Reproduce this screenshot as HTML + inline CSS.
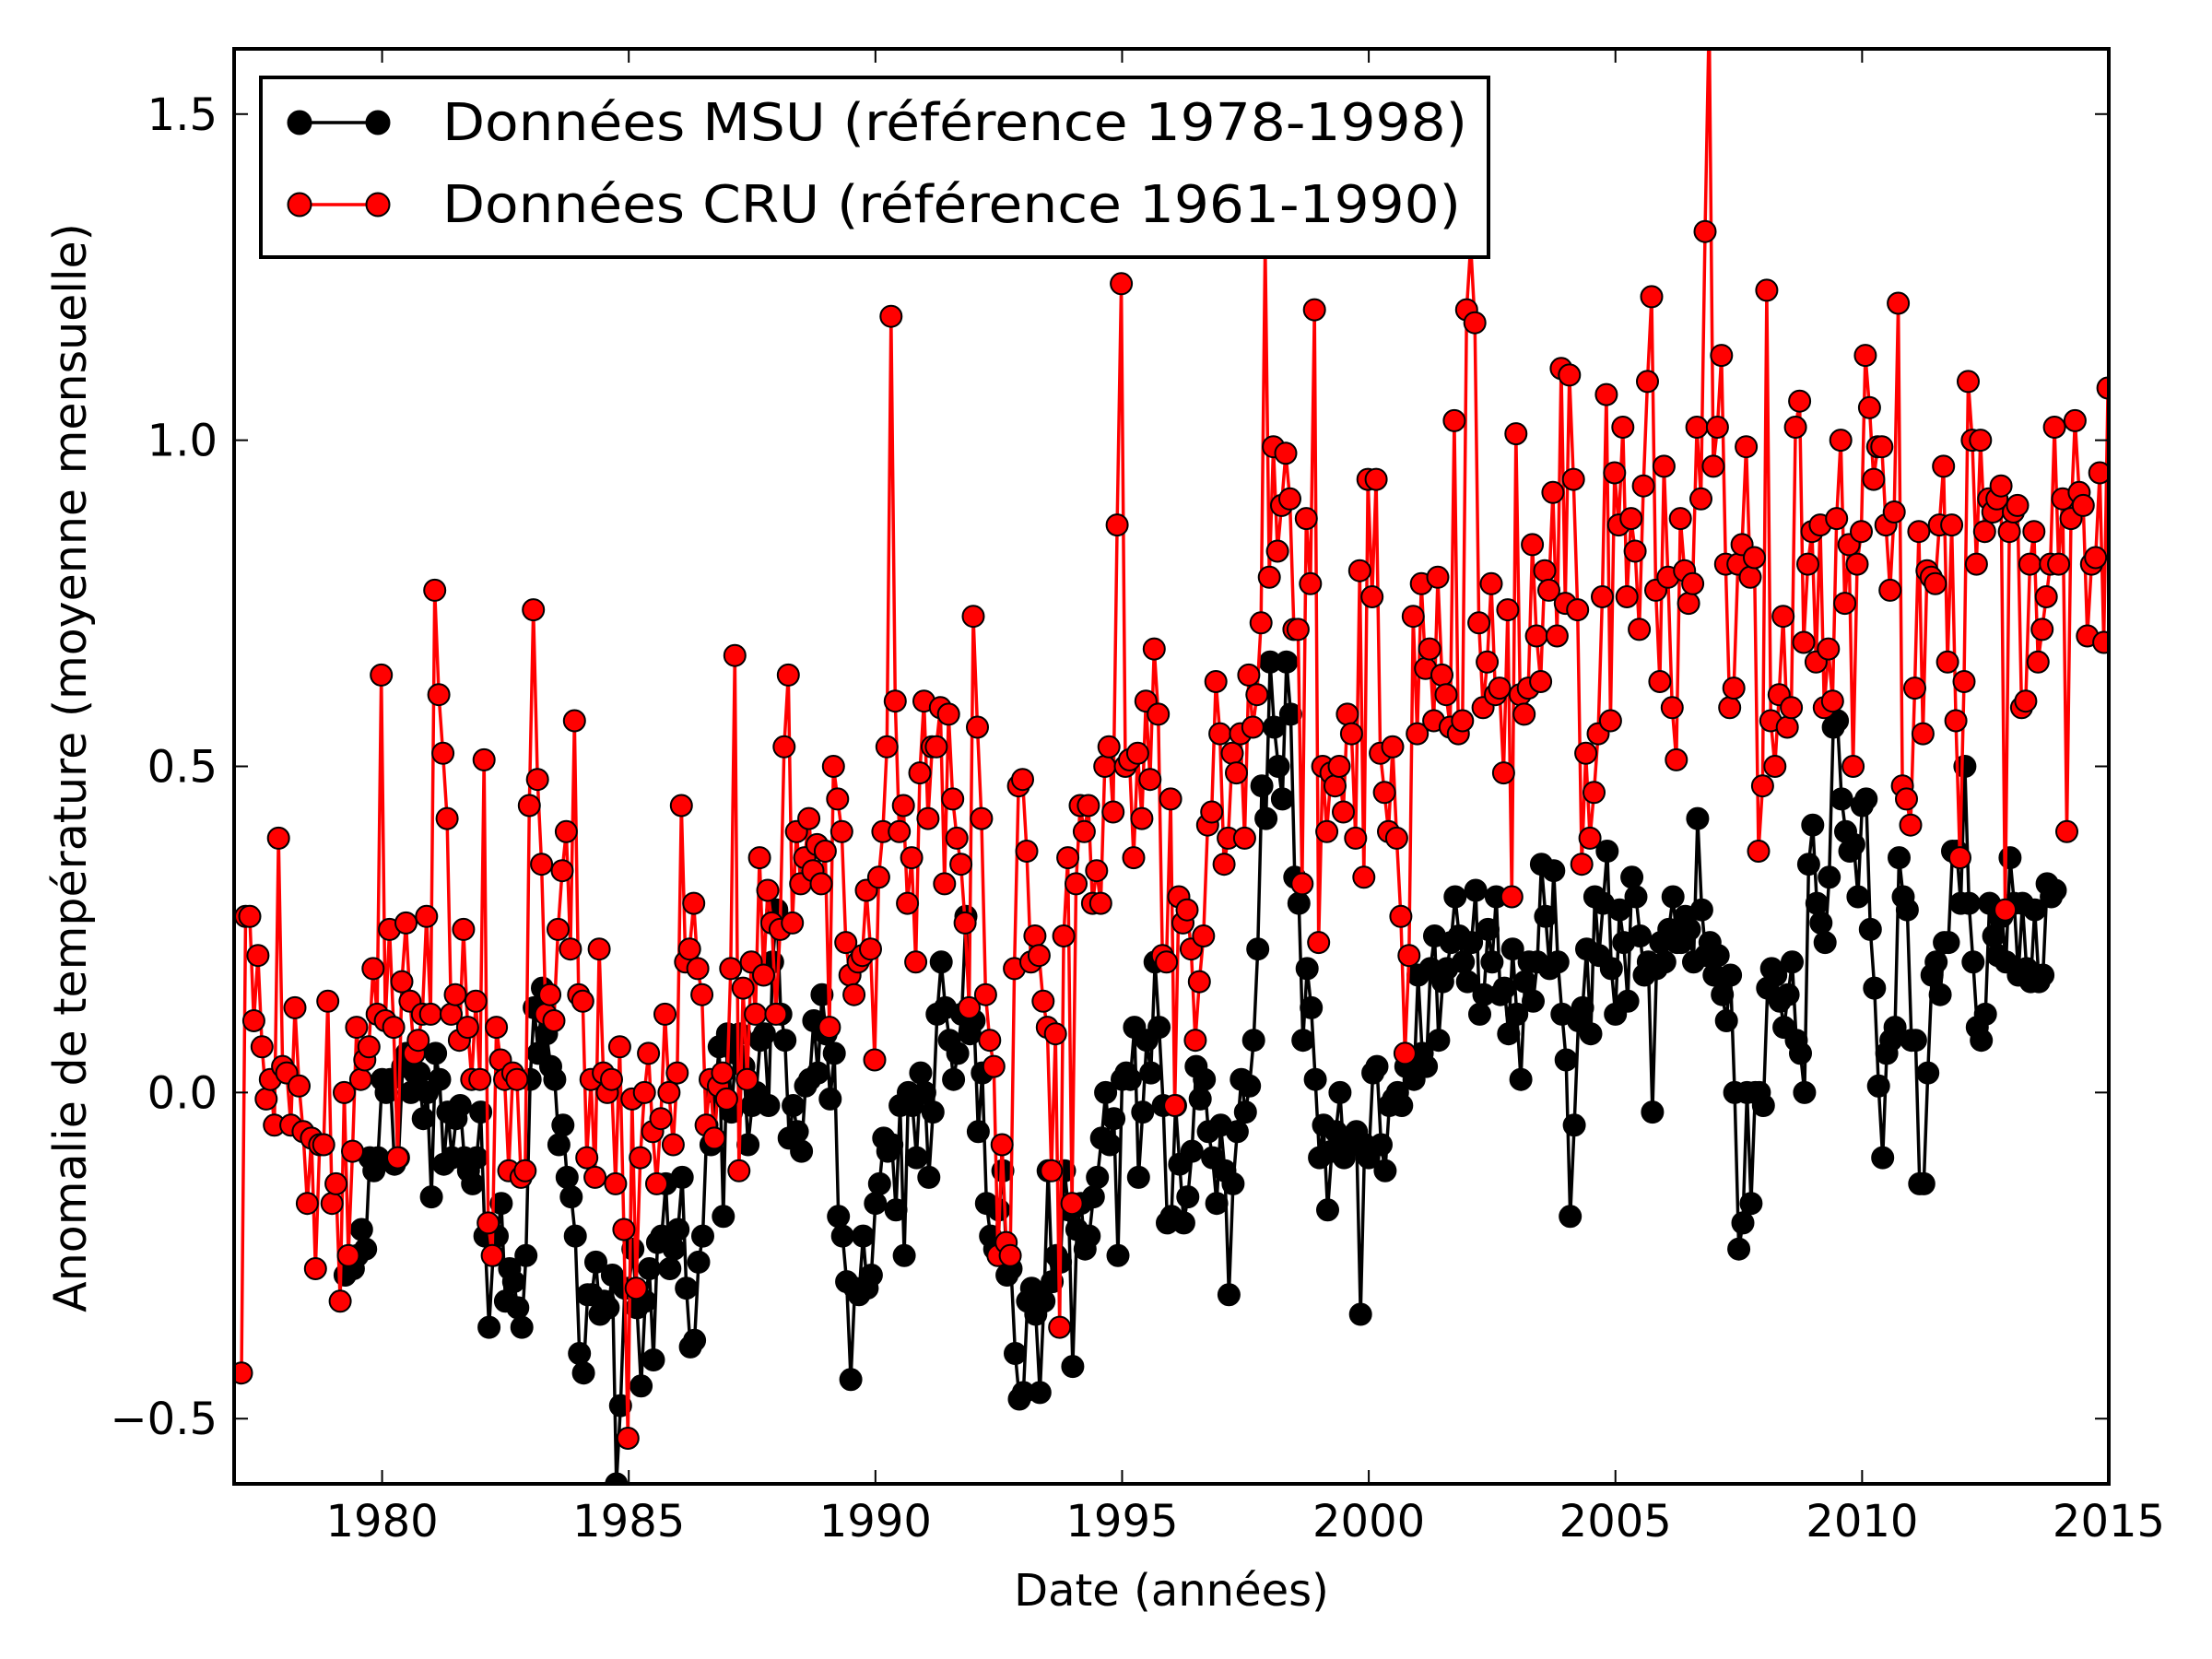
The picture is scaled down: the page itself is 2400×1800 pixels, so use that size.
<!DOCTYPE html>
<html><head><meta charset="utf-8"><style>html,body{margin:0;padding:0;background:#fff}svg{display:block}</style></head>
<body>
<svg id="chart" width="2400" height="1800" viewBox="0 0 2400 1800" xmlns="http://www.w3.org/2000/svg" font-family="DejaVu Sans, Liberation Sans, sans-serif">
<rect width="2400" height="1800" fill="#fff"/>
<defs><clipPath id="clip"><rect x="254" y="53" width="2034" height="1557"/></clipPath></defs>
<g id="series" clip-path="url(#clip)"></g>
<g id="axes"></g>
</svg>
<script>
const xTicks = [1980,1985,1990,1995,2000,2005,2010,2015];
const yTicks = [-0.5,0.0,0.5,1.0,1.5];
const yTickLabels = ["\u22120.5","0.0","0.5","1.0","1.5"];
const cruStart = 1977.15;
const msuStart = 1979.25;
const cruValues = [
-0.43,0.27,0.27,0.11,0.21,0.07,-0.01,0.02,-0.05,0.39,0.04,0.03,
-0.05,0.13,0.01,-0.06,-0.17,-0.07,-0.27,-0.08,-0.08,0.14,-0.17,-0.14,
-0.32,0.0,-0.25,-0.09,0.1,0.02,0.05,0.07,0.19,0.12,0.64,0.11,
0.25,0.1,-0.1,0.17,0.26,0.14,0.06,0.08,0.12,0.27,0.12,0.77,
0.61,0.52,0.42,0.12,0.15,0.08,0.25,0.1,0.02,0.14,0.02,0.51,
-0.2,-0.25,0.1,0.05,0.02,-0.12,0.03,0.02,-0.13,-0.12,0.44,0.74,
0.48,0.35,0.12,0.15,0.11,0.25,0.34,0.4,0.22,0.57,0.15,0.14,
-0.1,0.02,-0.13,0.22,0.03,0.0,0.02,-0.14,0.07,-0.21,-0.53,-0.01,
-0.3,-0.1,0.0,0.06,-0.06,-0.14,-0.04,0.12,0.0,-0.08,0.03,0.44,
0.2,0.22,0.29,0.19,0.15,-0.05,0.02,-0.07,0.01,0.03,-0.01,0.19,
0.67,-0.12,0.16,0.02,0.2,0.12,0.36,0.18,0.31,0.26,0.12,0.25,
0.53,0.64,0.26,0.4,0.32,0.36,0.42,0.34,0.38,0.32,0.37,0.1,
0.5,0.45,0.4,0.23,0.18,0.15,0.2,0.21,0.31,0.22,0.05,0.33,
0.4,0.53,1.19,0.6,0.4,0.44,0.29,0.36,0.2,0.49,0.6,0.42,
0.53,0.53,0.59,0.32,0.58,0.45,0.39,0.35,0.26,0.13,0.73,0.56,
0.42,0.15,0.08,0.04,-0.25,-0.08,-0.23,-0.25,0.19,0.47,0.48,0.37,
0.2,0.24,0.21,0.14,0.1,-0.12,0.09,-0.36,0.24,0.36,-0.17,0.32,
0.44,0.4,0.44,0.29,0.34,0.29,0.5,0.53,0.43,0.87,1.24,0.5,
0.51,0.36,0.52,0.42,0.6,0.48,0.68,0.58,0.21,0.2,0.45,-0.02,
0.3,0.26,0.28,0.22,0.08,0.17,0.24,0.41,0.43,0.63,0.55,0.35,
0.39,0.52,0.49,0.55,0.39,0.64,0.56,0.61,0.72,1.3,0.79,0.99,
0.83,0.9,0.98,0.91,0.71,0.71,0.32,0.88,0.78,1.2,0.23,0.5,
0.4,0.49,0.47,0.5,0.43,0.58,0.55,0.39,0.8,0.33,0.94,0.76,
0.94,0.52,0.46,0.4,0.53,0.39,0.27,0.06,0.21,0.73,0.55,0.78,
0.65,0.68,0.57,0.79,0.64,0.61,0.56,1.03,0.55,0.57,1.2,1.3,
1.18,0.72,0.59,0.66,0.78,0.61,0.62,0.49,0.74,0.3,1.01,0.61,
0.58,0.62,0.84,0.7,0.63,0.8,0.77,0.92,0.7,1.11,0.75,1.1,
0.94,0.74,0.35,0.52,0.39,0.46,0.55,0.76,1.07,0.57,0.95,0.87,
1.02,0.76,0.88,0.83,0.71,0.93,1.09,1.22,0.77,0.63,0.96,0.79,
0.59,0.51,0.88,0.8,0.75,0.78,1.02,0.91,1.32,1.65,0.96,1.02,
1.13,0.81,0.59,0.62,0.81,0.84,0.99,0.79,0.82,0.37,0.47,1.23,
0.57,0.5,0.61,0.73,0.56,0.59,1.02,1.06,0.69,0.81,0.86,0.66,
0.87,0.59,0.68,0.6,0.88,1.0,0.75,0.84,0.5,0.81,0.86,1.13,
1.05,0.94,0.99,0.99,0.87,0.77,0.89,1.21,0.47,0.45,0.41,0.62,
0.86,0.55,0.8,0.79,0.78,0.87,0.96,0.66,0.87,0.57,0.36,0.63,
1.09,1.0,0.81,1.0,0.86,0.91,0.89,0.91,0.93,0.28,0.86,0.89,
0.9,0.59,0.6,0.81,0.86,0.66,0.71,0.76,0.81,1.02,0.81,0.91,
0.4,0.88,1.03,0.92,0.9,0.7,0.81,0.82,0.95,0.69,1.08
];
const msuValues = [
-0.28,-0.26,-0.27,-0.25,-0.21,-0.24,-0.1,-0.12,-0.1,0.02,0.0,0.02,
-0.11,-0.1,0.04,0.06,0.0,0.03,0.03,-0.04,0.0,-0.16,0.06,0.02,
-0.11,-0.03,-0.1,-0.04,-0.02,-0.1,-0.12,-0.14,-0.1,-0.03,-0.22,-0.36,
-0.25,-0.22,-0.17,-0.32,-0.27,-0.29,-0.33,-0.36,-0.25,0.02,0.13,0.06,
0.16,0.09,0.04,0.02,-0.08,-0.05,-0.13,-0.16,-0.22,-0.4,-0.43,-0.31,
-0.31,-0.26,-0.34,-0.32,-0.33,-0.28,-0.6,-0.48,-0.3,-0.3,-0.24,-0.33,
-0.45,-0.32,-0.27,-0.41,-0.23,-0.22,-0.14,-0.27,-0.24,-0.21,-0.13,-0.3,
-0.39,-0.38,-0.26,-0.22,-0.05,-0.08,0.0,0.07,-0.19,0.09,-0.03,0.06,
0.09,0.04,-0.08,-0.02,0.0,0.08,0.09,-0.02,0.2,0.28,0.12,0.08,
-0.07,-0.02,-0.06,-0.09,0.01,0.02,0.11,0.03,0.15,0.09,-0.01,0.06,
-0.19,-0.22,-0.29,-0.44,-0.3,-0.31,-0.22,-0.3,-0.28,-0.17,-0.14,-0.07,
-0.09,-0.08,-0.18,-0.02,-0.25,0.0,-0.02,-0.1,0.03,0.0,-0.13,-0.03,
0.12,0.2,0.13,0.08,0.02,0.06,0.12,0.27,0.09,0.11,-0.06,0.03,
-0.17,-0.22,-0.24,-0.18,-0.12,-0.28,-0.27,-0.4,-0.47,-0.46,-0.32,-0.3,
-0.34,-0.46,-0.32,-0.12,-0.29,-0.25,-0.26,-0.12,-0.18,-0.42,-0.21,-0.17,
-0.24,-0.22,-0.16,-0.13,-0.07,0.0,-0.08,-0.04,-0.25,0.02,0.03,0.02,
0.1,-0.13,-0.03,0.08,0.03,0.2,0.1,-0.02,-0.2,-0.19,-0.02,-0.11,
-0.2,-0.16,-0.09,0.04,-0.01,0.02,-0.06,-0.1,-0.17,-0.05,-0.12,-0.31,
-0.14,-0.06,0.02,-0.03,0.01,0.08,0.22,0.47,0.42,0.66,0.56,0.5,
0.45,0.66,0.58,0.33,0.29,0.08,0.19,0.13,0.02,-0.1,-0.05,-0.18,
-0.09,-0.06,0.0,-0.1,-0.07,-0.08,-0.06,-0.34,-0.08,-0.1,0.03,0.04,
-0.08,-0.12,-0.02,-0.01,0.0,-0.02,0.04,0.05,0.02,0.18,0.06,0.04,
0.19,0.24,0.08,0.17,0.19,0.23,0.3,0.24,0.2,0.17,0.23,0.31,
0.12,0.15,0.25,0.2,0.3,0.15,0.16,0.09,0.22,0.12,0.02,0.17,
0.2,0.14,0.2,0.35,0.27,0.19,0.34,0.2,0.12,0.05,-0.19,-0.05,
0.11,0.13,0.22,0.09,0.3,0.21,0.29,0.37,0.19,0.12,0.28,0.23,
0.14,0.33,0.3,0.24,0.18,0.2,-0.03,0.19,0.23,0.2,0.25,0.3,
0.23,0.23,0.27,0.25,0.2,0.42,0.28,0.21,0.23,0.18,0.21,0.15,
0.11,0.18,0.0,-0.24,-0.2,0.0,-0.17,0.0,0.0,-0.02,0.16,0.19,
0.18,0.14,0.1,0.15,0.2,0.08,0.06,0.0,0.35,0.41,0.29,0.26,
0.23,0.33,0.56,0.57,0.45,0.4,0.37,0.38,0.3,0.44,0.45,0.25,
0.16,0.01,-0.1,0.06,0.08,0.1,0.36,0.3,0.28,0.08,0.08,-0.14,
-0.14,0.03,0.18,0.2,0.15,0.23,0.23,0.37,0.37,0.29,0.5,0.29,
0.2,0.1,0.08,0.12,0.29,0.24,0.21,0.27,0.2,0.36,0.29,0.18,
0.29,0.19,0.17,0.28,0.17,0.18,0.32,0.3,0.31
];

const NS = "http://www.w3.org/2000/svg";
const L = 254, R = 2288, T = 53, B = 1610;
const X0 = 1977.0, X1 = 2015.0, Y0 = -0.6, Y1 = 1.6;
function xs(v){ return L + (v - X0) / (X1 - X0) * (R - L); }
function ys(v){ return B - (v - Y0) / (Y1 - Y0) * (B - T); }
function mk(tag, attrs, parent){
  const e = document.createElementNS(NS, tag);
  for (const k in attrs) e.setAttribute(k, attrs[k]);
  parent.appendChild(e);
  return e;
}
const seriesG = document.getElementById('series');
const axesG = document.getElementById('axes');

function drawSeries(vals, start, color, name){
  const g = mk('g', {}, seriesG);
  
  
  const pts = vals.map((v, i) => xs(start + i / 12).toFixed(1) + ',' + ys(v).toFixed(1)).join(' ');
  const line = mk('polyline', {points: pts, fill: 'none', stroke: color, 'stroke-width': 3.5, 'stroke-linejoin': 'round'}, g);
  
  
  vals.forEach((v, i) => {
    const c = mk('circle', {cx: xs(start + i / 12).toFixed(1), cy: ys(v).toFixed(1), r: 11.5, fill: color, stroke: '#000', 'stroke-width': 2}, g);
    
    
  });
}
drawSeries(msuValues, msuStart, '#000', 'msu');
drawSeries(cruValues, cruStart, '#ff0000', 'cru');

const frame = mk('rect', {x: L, y: T, width: R - L, height: B - T, fill: 'none', stroke: '#000', 'stroke-width': 4}, axesG);



xTicks.forEach(t => {
  const x = xs(t);
  const a = mk('line', {x1: x, y1: B, x2: x, y2: B - 15, stroke: '#000', 'stroke-width': 2}, axesG);
  
  
  const b = mk('line', {x1: x, y1: T, x2: x, y2: T + 15, stroke: '#000', 'stroke-width': 2}, axesG);
  
  
  const tx = mk('text', {x: x, y: 1667, 'font-size': 48, 'text-anchor': 'middle', fill: '#000'}, axesG);
  tx.textContent = String(t);
  
  
});
yTicks.forEach((t, i) => {
  const y = ys(t);
  const a = mk('line', {x1: L, y1: y, x2: L + 15, y2: y, stroke: '#000', 'stroke-width': 2}, axesG);
  
  
  const b = mk('line', {x1: R, y1: y, x2: R - 15, y2: y, stroke: '#000', 'stroke-width': 2}, axesG);
  
  
  const tx = mk('text', {x: 236, y: y + 17, 'font-size': 48, 'text-anchor': 'end', fill: '#000'}, axesG);
  tx.textContent = yTickLabels[i];
  
  
});
</script>
<svg style="position:absolute;left:0;top:0" width="2400" height="1800" viewBox="0 0 2400 1800" xmlns="http://www.w3.org/2000/svg" font-family="DejaVu Sans, Liberation Sans, sans-serif">
<text x="1271" y="1742" font-size="48" text-anchor="middle">Date (années)</text>
<text transform="translate(93,833) rotate(-90)" font-size="49" text-anchor="middle">Anomalie de température (moyenne mensuelle)</text>
<g>
<rect x="283" y="84" width="1332" height="195" fill="#fff" stroke="#000" stroke-width="4"/>
<g>
<line x1="325" y1="133" x2="410" y2="133" stroke="#000" stroke-width="3.5"/>
<circle cx="325" cy="133" r="12.5" fill="#000" stroke="#000" stroke-width="2"/>
<circle cx="410" cy="133" r="12.5" fill="#000" stroke="#000" stroke-width="2"/>
<text x="480" y="152" font-size="56" textLength="1112" lengthAdjust="spacingAndGlyphs">Données MSU (référence 1978-1998)</text>
</g>
<g>
<line x1="325" y1="222" x2="410" y2="222" stroke="#ff0000" stroke-width="3.5"/>
<circle cx="325" cy="222" r="12.5" fill="#ff0000" stroke="#000" stroke-width="2"/>
<circle cx="410" cy="222" r="12.5" fill="#ff0000" stroke="#000" stroke-width="2"/>
<text x="480" y="241" font-size="56" textLength="1105" lengthAdjust="spacingAndGlyphs">Données CRU (référence 1961-1990)</text>
</g>
</g>
</svg>
</body></html>
